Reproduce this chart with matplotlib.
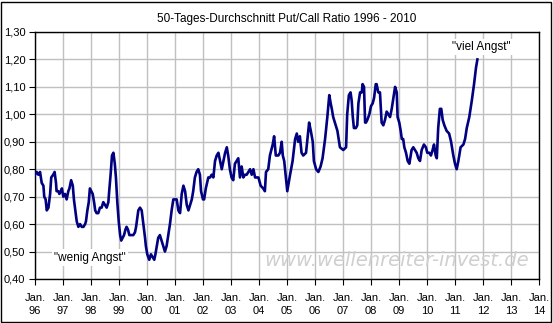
import matplotlib
matplotlib.use("Agg")
from matplotlib import pyplot as plt
from matplotlib.patches import Rectangle

plt.rcParams['font.family'] = ['Liberation Sans', 'DejaVu Sans']

# 50-day average put/call ratio (decimal years)
years = [
    1996.00, 1996.06, 1996.12, 1996.18, 1996.24, 1996.30, 1996.33, 1996.38, 1996.42, 1996.48,
    1996.54, 1996.58, 1996.65, 1996.70, 1996.75, 1996.77, 1996.83, 1996.87, 1996.92, 1996.96,
    1997.01, 1997.07, 1997.13, 1997.19, 1997.23, 1997.29, 1997.35, 1997.39, 1997.44, 1997.49,
    1997.55, 1997.61, 1997.67, 1997.73, 1997.79, 1997.82, 1997.87, 1997.92, 1997.96, 1998.01,
    1998.06, 1998.11, 1998.15, 1998.20, 1998.26, 1998.32, 1998.38, 1998.44, 1998.50, 1998.56,
    1998.62, 1998.65, 1998.70, 1998.75, 1998.80, 1998.85, 1998.89, 1998.94, 1998.99, 1999.04,
    1999.08, 1999.13, 1999.18, 1999.23, 1999.27, 1999.32, 1999.37, 1999.45, 1999.51, 1999.57,
    1999.61, 1999.69, 1999.75, 1999.81, 1999.87, 1999.93, 1999.96, 2000.01, 2000.08, 2000.14,
    2000.20, 2000.26, 2000.30, 2000.35, 2000.40, 2000.46, 2000.52, 2000.58, 2000.64, 2000.70,
    2000.76, 2000.82, 2000.88, 2000.94, 2001.00, 2001.06, 2001.12, 2001.18, 2001.24, 2001.30,
    2001.36, 2001.42, 2001.48, 2001.54, 2001.60, 2001.65, 2001.71, 2001.77, 2001.83, 2001.89,
    2001.93, 2002.00, 2002.04, 2002.10, 2002.19, 2002.25, 2002.31, 2002.37, 2002.43, 2002.49,
    2002.55, 2002.61, 2002.67, 2002.73, 2002.79, 2002.85, 2002.90, 2002.96, 2003.02, 2003.08,
    2003.14, 2003.20, 2003.26, 2003.32, 2003.38, 2003.44, 2003.50, 2003.56, 2003.68, 2003.74,
    2003.80, 2003.86, 2003.98, 2004.06, 2004.15, 2004.21, 2004.25, 2004.33, 2004.39, 2004.49,
    2004.54, 2004.60, 2004.69, 2004.75, 2004.81, 2004.85, 2004.90, 2005.01, 2005.11, 2005.20,
    2005.29, 2005.35, 2005.40, 2005.46, 2005.52, 2005.58, 2005.68, 2005.73, 2005.79, 2005.85,
    2005.92, 2005.96, 2006.04, 2006.12, 2006.20, 2006.27, 2006.36, 2006.44, 2006.51, 2006.56,
    2006.60, 2006.65, 2006.71, 2006.80, 2006.89, 2007.01, 2007.11, 2007.15, 2007.21, 2007.27,
    2007.31, 2007.35, 2007.39, 2007.46, 2007.51, 2007.55, 2007.61, 2007.67, 2007.70, 2007.75,
    2007.79, 2007.82, 2007.87, 2007.94, 2008.00, 2008.06, 2008.11, 2008.17, 2008.20, 2008.26,
    2008.32, 2008.38, 2008.44, 2008.50, 2008.56, 2008.62, 2008.68, 2008.74, 2008.80, 2008.86,
    2008.92, 2008.95, 2009.01, 2009.06, 2009.10, 2009.15, 2009.19, 2009.25, 2009.31, 2009.37,
    2009.45, 2009.51, 2009.57, 2009.63, 2009.69, 2009.75, 2009.81, 2009.89, 2009.96, 2010.01,
    2010.08, 2010.14, 2010.20, 2010.25, 2010.31, 2010.35, 2010.40, 2010.46, 2010.51, 2010.56,
    2010.62, 2010.70, 2010.79, 2010.86, 2010.94, 2011.00, 2011.06, 2011.12, 2011.20, 2011.30,
    2011.36, 2011.42, 2011.51, 2011.60, 2011.68, 2011.75, 2011.80,
]
ratio = [
    0.78, 0.79, 0.78, 0.79, 0.75, 0.74, 0.70, 0.69, 0.65, 0.66,
    0.71, 0.77, 0.78, 0.79, 0.75, 0.72, 0.72, 0.71, 0.72, 0.73,
    0.70, 0.71, 0.69, 0.72, 0.73, 0.76, 0.74, 0.69, 0.65, 0.61,
    0.59, 0.60, 0.59, 0.59, 0.60, 0.61, 0.65, 0.68, 0.73, 0.72,
    0.71, 0.68, 0.65, 0.64, 0.64, 0.66, 0.66, 0.68, 0.67, 0.66,
    0.68, 0.72, 0.78, 0.85, 0.86, 0.82, 0.77, 0.68, 0.61, 0.56,
    0.54, 0.55, 0.56, 0.58, 0.59, 0.58, 0.56, 0.56, 0.56, 0.57,
    0.59, 0.65, 0.66, 0.65, 0.60, 0.55, 0.52, 0.49, 0.47, 0.49,
    0.48, 0.47, 0.49, 0.52, 0.55, 0.56, 0.54, 0.52, 0.50, 0.52,
    0.56, 0.60, 0.65, 0.69, 0.69, 0.69, 0.65, 0.64, 0.71, 0.74,
    0.72, 0.67, 0.65, 0.67, 0.69, 0.72, 0.77, 0.79, 0.80, 0.78,
    0.72, 0.69, 0.69, 0.73, 0.77, 0.77, 0.78, 0.77, 0.83, 0.85,
    0.86, 0.83, 0.80, 0.83, 0.86, 0.88, 0.85, 0.80, 0.77, 0.76,
    0.82, 0.83, 0.84, 0.77, 0.81, 0.77, 0.78, 0.78, 0.80, 0.78,
    0.80, 0.77, 0.77, 0.74, 0.73, 0.72, 0.79, 0.80, 0.85, 0.89,
    0.92, 0.85, 0.85, 0.86, 0.90, 0.85, 0.83, 0.72, 0.78, 0.83,
    0.91, 0.93, 0.90, 0.92, 0.86, 0.85, 0.86, 0.91, 0.97, 0.94,
    0.90, 0.83, 0.80, 0.79, 0.81, 0.84, 0.91, 0.99, 1.07, 1.04,
    1.02, 0.99, 0.97, 0.94, 0.88, 0.87, 0.88, 1.00, 1.07, 1.08,
    1.05, 0.99, 0.95, 0.95, 0.96, 1.04, 1.08, 1.08, 1.11, 1.10,
    0.97, 0.97, 0.98, 1.00, 1.03, 1.04, 1.06, 1.11, 1.11, 1.08,
    1.08, 0.97, 0.96, 0.98, 1.01, 1.00, 0.99, 1.02, 1.06, 1.10,
    1.08, 0.99, 0.97, 0.94, 0.91, 0.91, 0.88, 0.86, 0.83, 0.82,
    0.87, 0.88, 0.87, 0.86, 0.84, 0.83, 0.87, 0.89, 0.88, 0.86,
    0.86, 0.85, 0.87, 0.89, 0.85, 0.84, 0.95, 1.02, 1.02, 0.98,
    0.96, 0.94, 0.93, 0.90, 0.85, 0.82, 0.80, 0.83, 0.88, 0.89,
    0.91, 0.95, 0.99, 1.05, 1.11, 1.17, 1.20,
]

tick_years = list(range(1996, 2015))
tick_labels = ["Jan.\n%02d" % (y % 100) for y in tick_years]
y_ticks = [0.40, 0.50, 0.60, 0.70, 0.80, 0.90, 1.00, 1.10, 1.20, 1.30]
y_labels = ["%.2f" % v for v in y_ticks]
y_labels = [s.replace(".", ",") for s in y_labels]

fig = plt.figure(figsize=(5.53, 3.23), dpi=100)
ax = fig.add_axes([35 / 553, 44 / 323, 504 / 553, 247 / 323])

ax.plot(years, ratio, color='#000080', linewidth=1.9, zorder=3)

ax.set_xlim(1996, 2014)
ax.set_ylim(0.40, 1.30)
ax.set_xticks(tick_years)
ax.set_xticklabels(tick_labels, fontsize=8, linespacing=1.45)
ax.set_yticks(y_ticks)
ax.set_yticklabels(y_labels, fontsize=8)
ax.tick_params(direction='out', length=4, width=0.8, colors='black', pad=3)
ax.tick_params(axis='x', pad=6)
ax.grid(True, color='#c0c0c0', linewidth=1, zorder=0)
ax.set_axisbelow(True)
for sp in ax.spines.values():
    sp.set_linewidth(1)
    sp.set_color('black')

ax.set_title("50-Tages-Durchschnitt Put/Call Ratio 1996 - 2010", fontsize=8.5, pad=7)

# watermark
ax.text(2008.9, 0.433, "www.wellenreiter-invest.de", fontsize=14, style='italic',
        color='#cfcfcf', ha='center', va='bottom', family='DejaVu Sans', zorder=2)

box = dict(facecolor='white', edgecolor='none', pad=1.5)
ax.text(1997.95, 0.478, '"wenig Angst"', fontsize=8.5, ha='center', va='center', bbox=box, zorder=4)
ax.text(2011.95, 1.246, '"viel Angst"', fontsize=8.5, ha='center', va='center', bbox=box, zorder=4)

# frame around the whole picture
fig.patches.append(Rectangle((1 / 553, 1 / 323), 550 / 553, 320 / 323, transform=fig.transFigure,
                             fill=False, edgecolor='black', linewidth=1))

fig.savefig("out.png", dpi=100)
